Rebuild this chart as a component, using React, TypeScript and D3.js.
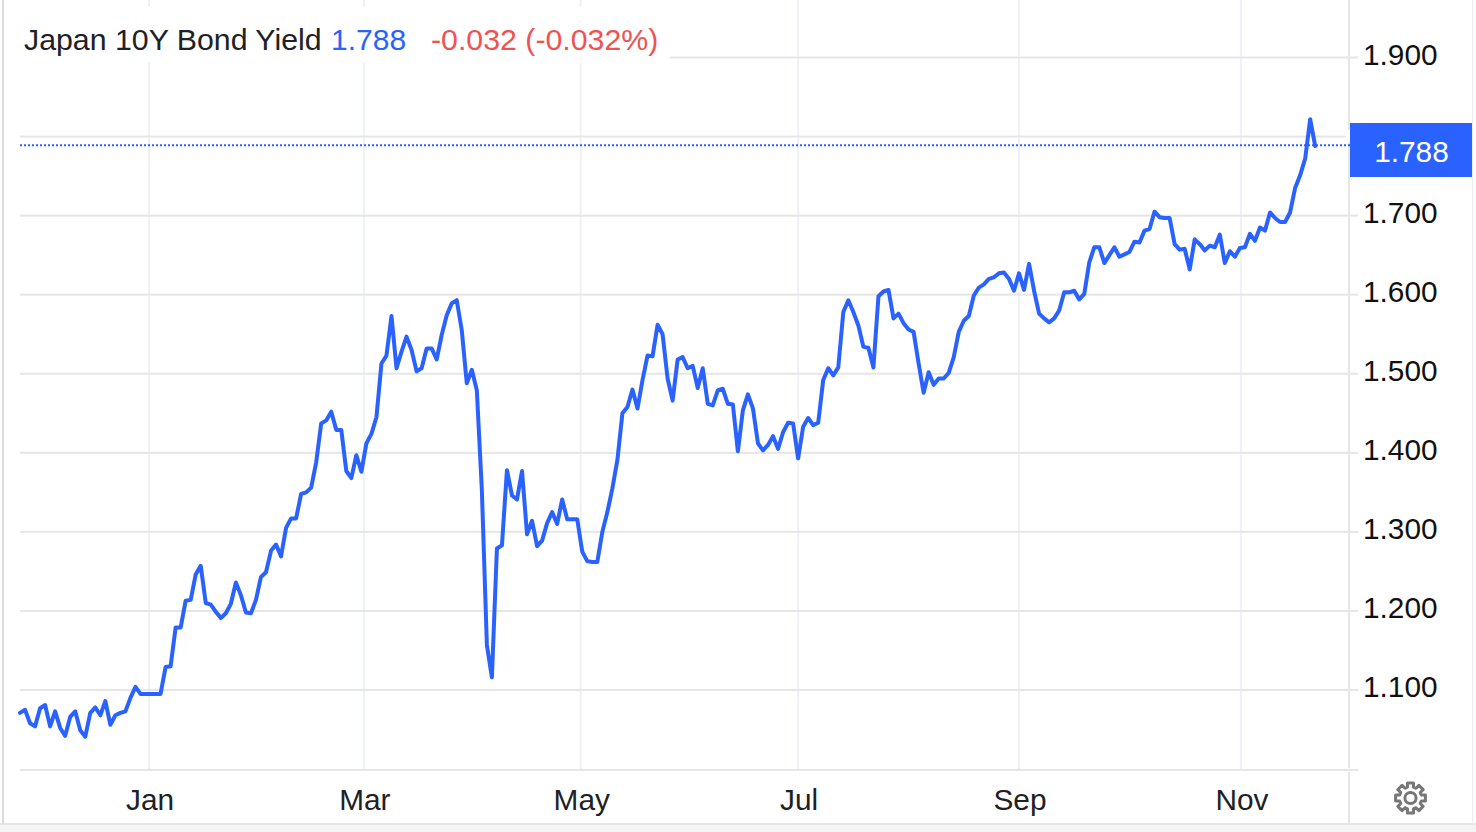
import React from "react";
import * as d3 from "d3";

const titleText = "Japan 10Y Bond Yield";
const lastLabel = "1.788";
const changeLabel = "-0.032 (-0.032%)";
const lastValue = 1.788;

const yTicks = [1.1, 1.2, 1.3, 1.4, 1.5, 1.6, 1.7, 1.8, 1.9];
const yTickLabels = ["1.100", "1.200", "1.300", "1.400", "1.500", "1.600", "1.700", "", "1.900"];

const monthLabels = ["Jan", "Mar", "May", "Jul", "Sep", "Nov"];
// session number at which each month starts
const monthSessions = [25.7, 68.5, 111.7, 155, 199, 243.2];

const yields = [
  1.071, 1.075, 1.058, 1.054, 1.077, 1.081, 1.054, 1.073, 1.052, 1.042,
  1.066, 1.073, 1.049, 1.041, 1.071, 1.078, 1.068, 1.086, 1.056, 1.068,
  1.071, 1.073, 1.09, 1.104, 1.095, 1.095, 1.095, 1.095, 1.095, 1.129,
  1.13, 1.179, 1.179, 1.213, 1.214, 1.246, 1.257, 1.21, 1.208, 1.199,
  1.191, 1.197, 1.209, 1.236, 1.22, 1.198, 1.197, 1.214, 1.243, 1.249,
  1.276, 1.284, 1.269, 1.305, 1.317, 1.317, 1.348, 1.35, 1.356, 1.388,
  1.437, 1.441, 1.452, 1.429, 1.429, 1.377, 1.368, 1.397, 1.376, 1.412,
  1.424, 1.445, 1.513, 1.523, 1.573, 1.507, 1.528, 1.547, 1.53, 1.503,
  1.507, 1.532, 1.532, 1.518, 1.549, 1.574, 1.589, 1.593, 1.555, 1.488,
  1.505, 1.479, 1.353, 1.157, 1.116, 1.279, 1.283, 1.378, 1.346, 1.341,
  1.377, 1.297, 1.314, 1.282, 1.289, 1.311, 1.325, 1.31, 1.341, 1.316,
  1.316, 1.316, 1.275, 1.263, 1.262, 1.262, 1.3, 1.325, 1.355, 1.391,
  1.45, 1.458, 1.48, 1.456, 1.492, 1.523, 1.522, 1.562, 1.55, 1.494,
  1.466, 1.518, 1.521, 1.507, 1.51, 1.482, 1.507, 1.462, 1.46, 1.479,
  1.481, 1.462, 1.461, 1.402, 1.454, 1.474, 1.456, 1.412, 1.403, 1.41,
  1.421, 1.405, 1.426, 1.438, 1.437, 1.393, 1.433, 1.444, 1.435, 1.438,
  1.492, 1.507, 1.498, 1.508, 1.578, 1.593, 1.578, 1.561, 1.534, 1.533,
  1.508, 1.598, 1.604, 1.606, 1.57, 1.576, 1.564, 1.556, 1.553, 1.513,
  1.476, 1.502, 1.486, 1.494, 1.494, 1.501, 1.521, 1.553, 1.567, 1.573,
  1.599, 1.609, 1.613, 1.62, 1.622, 1.627, 1.628, 1.62, 1.605, 1.627,
  1.606, 1.639, 1.605, 1.576, 1.57, 1.565, 1.57, 1.58, 1.603, 1.603,
  1.605, 1.594, 1.601, 1.641, 1.66, 1.66, 1.64, 1.65, 1.66, 1.648,
  1.651, 1.654, 1.667, 1.666, 1.681, 1.683, 1.705, 1.698, 1.697, 1.697,
  1.664, 1.657, 1.658, 1.632, 1.67, 1.664, 1.656, 1.662, 1.66, 1.676,
  1.64, 1.655, 1.648, 1.659, 1.66, 1.677, 1.668, 1.685, 1.681, 1.704,
  1.697, 1.692, 1.692, 1.704, 1.735, 1.751, 1.772, 1.822, 1.788,
];

const FONT = "'Liberation Sans', Arial, Helvetica, sans-serif";
const BLUE = "#2962ff";
const RED = "#f05252";
const GRID_H = "#e6e6e6";
const GRID_V = "#eef2f6";

const x = d3.scaleLinear().domain([0, yields.length - 1]).range([20, 1315.2]);
const y = d3.scaleLinear().domain([1.1, 1.9]).range([690, 57.5]);

const linePath = d3
  .line<number>()
  .x((_, i) => x(i))
  .y((d) => y(d))
  .curve(d3.curveLinear)(yields)!;

// gear outline: 8 teeth
const gearPts: [number, number][] = [];
for (let i = 0; i < 8; i++) {
  const a = (i * Math.PI) / 4;
  const w = 0.2;
  gearPts.push([a - 0.27, 11.2], [a - w, 15.2], [a + w, 15.2], [a + 0.27, 11.2]);
}
const gearPath = d3
  .lineRadial()
  .angle((d) => d[0])
  .radius((d) => d[1])
  .curve(d3.curveLinearClosed)(gearPts)!;

export default function App() {
  return (
    <svg
      width={1476}
      height={832}
      viewBox="0 0 1476 832"
      style={{ position: "fixed", left: 0, top: 0, background: "#fff", fontFamily: FONT }}
    >
      <rect x={0} y={825} width={1476} height={7} fill="#f5f5f5" />
      <rect x={0} y={823} width={1476} height={2} fill={GRID_H} />
      <rect x={2} y={0} width={2} height={824} fill="#dcdcdc" />
      <rect x={1472} y={0} width={1} height={824} fill="#ececec" />

      {monthSessions.map((m, i) => (
        <rect key={monthLabels[i]} x={x(m) - 1} y={0} width={2} height={770} fill={GRID_V} />
      ))}

      {yTicks.map((t) => (
        <rect key={t} x={20} y={y(t) - 1} width={1338} height={2} fill={GRID_H} />
      ))}
      <rect x={20} y={769} width={1338} height={2} fill={GRID_H} />

      <rect x={1348} y={0} width={2} height={768} fill={GRID_H} />
      <rect x={1348} y={772} width={2} height={52} fill={GRID_H} />
      <rect x={1346} y={130} width={12} height={12} fill="#fff" />

      <rect x={15} y={7} width={655} height={55} fill="#fff" />

      <line
        x1={20}
        x2={1350}
        y1={y(lastValue) - 0.8}
        y2={y(lastValue) - 0.8}
        stroke={BLUE}
        strokeWidth={2}
        strokeDasharray="2 2"
      />

      <path d={linePath} fill="none" stroke={BLUE} strokeWidth={4} strokeLinejoin="round" strokeLinecap="round" />

      <rect x={1350} y={123} width={122} height={54} fill={BLUE} />
      <text x={1411.5} y={161.5} fontSize={29.8} fill="#fff" textAnchor="middle">
        {lastLabel}
      </text>

      {yTicks.map((t, i) =>
        yTickLabels[i] ? (
          <text key={t} x={1363} y={y(t) + 7.2} fontSize={29.8} fill="#111">
            {yTickLabels[i]}
          </text>
        ) : null
      )}

      {monthLabels.map((m, i) => (
        <text key={m} x={x(monthSessions[i]) + 1} y={810} fontSize={29.8} fill="#202124" textAnchor="middle">
          {m}
        </text>
      ))}

      <text x={24} y={50} fontSize={30.3}>
        <tspan fill="#202124">{titleText}</tspan>
        <tspan x={331} fontSize={30} fill={BLUE}>{lastLabel}</tspan>
        <tspan x={431} fill={RED}>{changeLabel}</tspan>
      </text>

      <g transform="translate(1410.5,798)" fill="none" stroke="#777" strokeWidth={3}>
        <path d={gearPath} strokeLinejoin="round" />
        <circle r={5.6} />
      </g>
    </svg>
  );
}
